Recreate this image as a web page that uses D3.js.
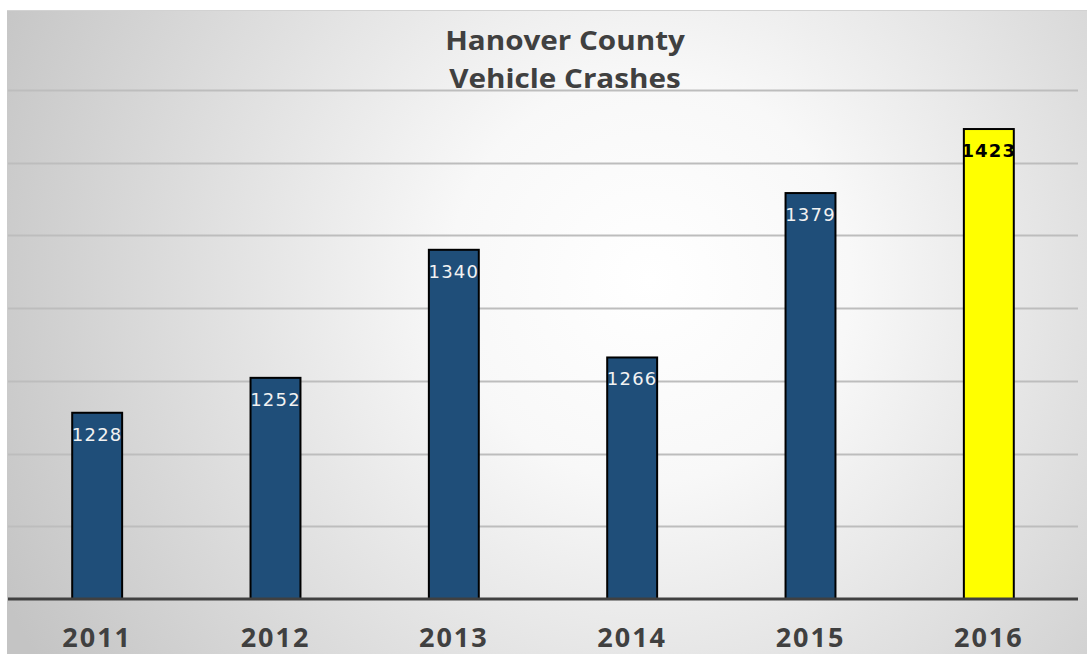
<!DOCTYPE html>
<html>
<head>
<meta charset="utf-8">
<script src="https://cdn.jsdelivr.net/npm/d3@7"></script>
<style>
  html, body { margin: 0; padding: 0; background: #fff; }
  svg { display: block; }
</style>
</head>
<body>
<svg id="chart" width="1087" height="654"></svg>
<script>
// chart data
const years = ['2011', '2012', '2013', '2014', '2015', '2016'];
const crashes = [1228, 1252, 1340, 1266, 1379, 1423];
const gridTicks = [1150, 1200, 1250, 1300, 1350, 1400, 1450];
const titleLines = ['Hanover County', 'Vehicle Crashes'];

const width = 1087,
  height = 654,
  plotLeft = 8,
  plotRight = 1078,
  plotTop = 17,
  plotBottom = 599;

const svg = d3.select('#chart');

// radial background like the excel chart area
const defs = svg.append('defs');
const grad = defs.append('radialGradient')
  .attr('id', 'bg')
  .attr('gradientUnits', 'userSpaceOnUse')
  .attr('cx', 650).attr('cy', 280).attr('r', 720);
grad.append('stop').attr('offset', '0').attr('stop-color', '#ffffff');
grad.append('stop').attr('offset', '0.28').attr('stop-color', '#f8f8f8');
grad.append('stop').attr('offset', '1').attr('stop-color', '#c4c4c4');

svg.append('rect')
  .attr('x', 7).attr('y', 10)
  .attr('width', width - 7).attr('height', height - 10)
  .attr('fill', 'url(#bg)');
svg.append('line')
  .attr('x1', 7).attr('x2', width).attr('y1', 10.5).attr('y2', 10.5)
  .attr('stroke', '#d2d2d2');

const x = d3.scaleBand()
  .domain(years)
  .range([plotLeft, plotRight])
  .paddingInner(0.72)
  .paddingOuter(0.36);

const y = d3.scaleLinear()
  .domain([1100, 1500])
  .range([plotBottom, plotTop]);

// gridlines
svg.append('g')
  .selectAll('line')
  .data(gridTicks)
  .enter()
  .append('line')
  .attr('x1', plotLeft)
  .attr('x2', plotRight)
  .attr('y1', (d) => Math.round(y(d)) + 0.5)
  .attr('y2', (d) => Math.round(y(d)) + 0.5)
  .attr('stroke', '#bdbdbd')
  .attr('stroke-width', 2);

// bars
svg.append('g')
  .selectAll('rect')
  .data(crashes)
  .enter()
  .append('rect')
  .attr('x', (_, i) => x(years[i]))
  .attr('y', (d) => y(d))
  .attr('width', x.bandwidth())
  .attr('height', (d) => y(1100) - y(d))
  .attr('fill', (_, i) => i === years.length - 1 ? '#ffff00' : '#1f4e79')
  .attr('stroke', '#000')
  .attr('stroke-width', 2);

// value labels
svg.append('g')
  .selectAll('text')
  .data(crashes)
  .enter()
  .append('text')
  .attr('x', (_, i) => x(years[i]) + x.bandwidth() / 2)
  .attr('y', (d) => y(d) + 28)
  .attr('text-anchor', 'middle')
  .attr('font-family', 'DejaVu Sans')
  .attr('font-size', 18)
  .attr('letter-spacing', 1.2)
  .attr('font-weight', (_, i) => i === years.length - 1 ? 'bold' : 'normal')
  .attr('fill', (_, i) => i === years.length - 1 ? '#000' : '#f2f2f2')
  .text((d) => d);

// x axis
const xAxis = svg.append('g')
  .attr('transform', `translate(0,${plotBottom})`)
  .call(d3.axisBottom(x).tickSize(0).tickPadding(0));
xAxis.select('.domain')
  .attr('d', `M${plotLeft},0H${plotRight}`)
  .attr('stroke', '#404040')
  .attr('stroke-width', 3);
xAxis.selectAll('text')
  .attr('y', 48)
  .attr('dy', 0)
  .attr('font-family', 'Open Sans')
  .attr('font-weight', 'bold')
  .attr('font-size', 27)
  .attr('letter-spacing', 2)
  .attr('fill', '#404040');

// title (stretched a little sideways like the original)
svg.append('g')
  .attr('transform', 'translate(565,0) scale(1.14,1)')
  .append('text')
  .attr('y', 50)
  .attr('text-anchor', 'middle')
  .attr('font-family', 'Open Sans')
  .attr('font-weight', 'bold')
  .attr('font-size', 26)
  .attr('fill', '#404040')
  .selectAll('tspan')
  .data(titleLines)
  .enter()
  .append('tspan')
  .attr('x', 0)
  .attr('dy', (_, i) => i === 0 ? 0 : 38)
  .text((d) => d);
</script>
</body>
</html>
